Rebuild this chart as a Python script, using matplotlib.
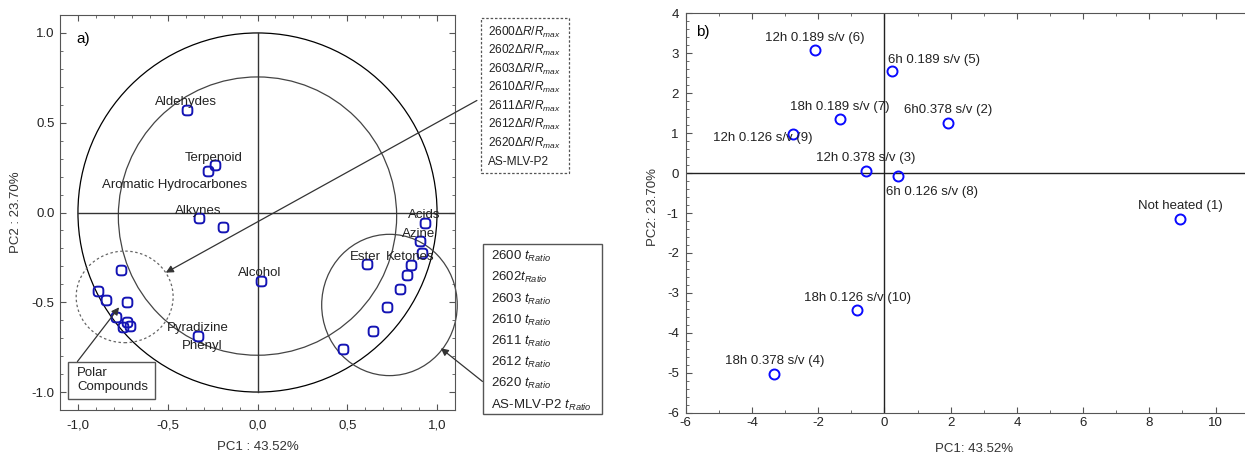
"""
PCA loadings (a) and scores (b) plot
"""

import numpy as np
import matplotlib
matplotlib.use('Agg')
import matplotlib.pyplot as plt
from matplotlib.patches import Circle, Ellipse, Rectangle
from matplotlib.path import Path
from matplotlib.ticker import MultipleLocator

# ================================
# Data
# ================================
# a) loadings of the volatile compound classes / sensors
load_x = [-0.394, -0.236, -0.277, -0.325, -0.193, 0.018, -0.329,
          -0.762, -0.890, -0.843, -0.728, -0.786, -0.728, -0.710, -0.750,
          0.932, 0.904, 0.915, 0.611, 0.854, 0.830, 0.791, 0.722, 0.642, 0.475]
load_y = [0.572, 0.264, 0.229, -0.033, -0.080, -0.382, -0.687,
          -0.319, -0.436, -0.487, -0.497, -0.583, -0.611, -0.630, -0.639,
          -0.058, -0.158, -0.224, -0.289, -0.293, -0.347, -0.424, -0.526, -0.661, -0.758]

compound_names = ['Aldehydes', 'Terpenoid', 'Aromatic Hydrocarbones', 'Alkynes',
                  'Acids', 'Azine', 'Ester', 'Ketones', 'Alcohol',
                  'Pyradizine', 'Phenyl']
# label positions (layout only)
compound_pos = [(-0.40, 0.614), (-0.242, 0.305), (-0.46, 0.152), (-0.33, 0.009),
                (0.928, -0.015), (0.90, -0.117), (0.603, -0.247), (0.85, -0.25),
                (0.013, -0.335), (-0.334, -0.641), (-0.31, -0.741)]

sensors = ['2600', '2602', '2603', '2610', '2611', '2612', '2620']

# b) scores of the samples
sample_names = ['Not heated (1)', '6h0.378 s/v (2)', '12h 0.378 s/v (3)',
                '18h 0.378 s/v (4)', '6h 0.189 s/v (5)', '12h 0.189 s/v (6)',
                '18h 0.189 s/v (7)', '6h 0.126 s/v (8)', '12h 0.126 s/v (9)',
                '18h 0.126 s/v (10)']
score_x = [8.93, 1.92, -0.56, -3.32, 0.22, -2.09, -1.35, 0.42, -2.75, -0.82]
score_y = [-1.15, 1.25, 0.04, -5.04, 2.56, 3.08, 1.35, -0.07, 0.98, -3.42]
# label offsets in pixels + horizontal alignment (layout only)
score_offsets = [(0, 13, 'center'), (0, 13, 'center'), (0, 13, 'center'),
                 (0, 13, 'center'), (-4, 11, 'left'), (0, 12, 'center'),
                 (0, 12, 'center'), (-12, -16, 'left'), (-31, -4, 'center'),
                 (0, 12, 'center')]

# ================================
# Style
# ================================
plt.rcParams['font.family'] = ['Liberation Sans', 'DejaVu Sans']
plt.rcParams['axes.unicode_minus'] = False
plt.rcParams['mathtext.fontset'] = 'custom'
plt.rcParams['mathtext.rm'] = 'Liberation Sans'
plt.rcParams['mathtext.it'] = 'Liberation Sans:italic'

W, H = 1245, 458
FS = 9.5
TXT = '#222222'
SPINE = '#555555'


def px(x, y):
    """pixel position (from top-left) -> figure fraction"""
    return x / W, 1 - y / H


# rounded square marker like the original software uses
t = np.linspace(0, 2 * np.pi, 65)
sq = np.column_stack([np.sign(np.cos(t)) * np.abs(np.cos(t)) ** 0.6,
                      np.sign(np.sin(t)) * np.abs(np.sin(t)) ** 0.6])
squircle = Path(sq, closed=True)

fig = plt.figure(figsize=(W / 100, H / 100), dpi=100)

# --------------------------------
# Panel a: loadings
# --------------------------------
axa = fig.add_axes([60 / W, 1 - 410 / H, 395 / W, 395 / H])
axa.set_xlim(-1.1, 1.1)
axa.set_ylim(-1.1, 1.1)

axa.add_patch(Circle((0, 0), 1.0, fill=False, ec='black', lw=0.9))
axa.add_patch(Circle((0, -0.02), 0.775, fill=False, ec='#444444', lw=0.9))
axa.add_patch(Ellipse((-0.74, -0.47), 0.54, 0.51, fill=False, ec='#666666',
                      lw=0.9, ls=(0, (2, 2))))
axa.add_patch(Ellipse((0.735, -0.515), 0.755, 0.787, fill=False,
                      ec='#444444', lw=0.9, clip_on=False))
axa.plot([-1, 1.1], [0, 0], color='#333333', lw=1.0)
axa.plot([0, 0], [-1, 1], color='#333333', lw=1.0)

axa.plot(load_x, load_y, linestyle='none', marker=squircle, markersize=7,
         mfc='none', mec='#1414b4', mew=1.4)

for name, (lx, ly) in zip(compound_names, compound_pos):
    axa.text(lx, ly, name, fontsize=FS, color=TXT, ha='center', va='center')

axa.text(-0.97, 0.965, 'a)', fontsize=11, color='black', ha='center', va='center')

# Polar compounds box + arrow
axa.add_patch(Rectangle((-1.055, -1.036), 0.483, 0.206, fill=False,
                        ec='#555555', lw=1.0))
axa.text(-1.005, -0.933, 'Polar\nCompounds', fontsize=FS, color=TXT,
         ha='left', va='center', linespacing=1.15)

arrow_kw = dict(arrowstyle='-|>', color='#333333', lw=0.9, mutation_scale=11,
                shrinkA=0, shrinkB=0)
axa.annotate('', xy=(-0.771, -0.528), xytext=(-1.003, -0.83), arrowprops=arrow_kw)
axa.annotate('', xy=(-0.511, -0.335), xytext=(1.222, 0.624), arrowprops=arrow_kw,
             annotation_clip=False)
axa.annotate('', xy=(1.021, -0.756), xytext=(1.253, -0.941), arrowprops=arrow_kw,
             annotation_clip=False)

axa.set_xticks([-1, -0.5, 0, 0.5, 1])
axa.set_xticklabels(['-1,0', '-0,5', '0,0', '0,5', '1,0'])
axa.set_yticks([-1, -0.5, 0, 0.5, 1])
axa.set_yticklabels(['-1.0', '-0.5', '0.0', '0.5', '1.0'])
axa.xaxis.set_minor_locator(MultipleLocator(0.1))
axa.yaxis.set_minor_locator(MultipleLocator(0.1))
axa.tick_params(which='both', direction='in', top=True, right=True,
                color=SPINE, labelsize=FS, labelcolor=TXT)
axa.tick_params(which='major', length=4)
axa.tick_params(which='minor', length=2)
axa.tick_params(axis='x', pad=7)
axa.tick_params(axis='y', pad=4)
for sp in axa.spines.values():
    sp.set_color(SPINE)
axa.text(0.5, -0.093, 'PC1 : 43.52%', transform=axa.transAxes, fontsize=FS,
         color='#333333', ha='center', va='center')
axa.text(-0.111, 0.5, 'PC2 : 23.70%', transform=axa.transAxes, fontsize=FS,
         color='#333333', ha='center', va='center', rotation=90)

# sensor boxes outside the axes
fig.add_artist(Rectangle(px(480.7, 173.3), 88.6 / W, 155 / H, fill=False,
                         ec='#555555', lw=0.9, ls=(0, (2, 1.5)),
                         transform=fig.transFigure))
box1 = [f'{s}$\\Delta R/R_{{max}}$' for s in sensors] + ['AS-MLV-P2']
for i, line in enumerate(box1):
    fig.text(*px(488, 32 + i * 18.57), line, fontsize=8.6, color=TXT,
             ha='left', va='center')

fig.add_artist(Rectangle(px(483.3, 414), 118.4 / W, 170 / H, fill=False,
                         ec='#555555', lw=1.0, transform=fig.transFigure))
box2 = [f'{s} $t_{{Ratio}}$' if s != '2602' else f'{s}$t_{{Ratio}}$'
        for s in sensors] + ['AS-MLV-P2 $t_{Ratio}$']
for i, line in enumerate(box2):
    fig.text(*px(491, 256.7 + i * 21.2), line, fontsize=FS, color=TXT,
             ha='left', va='center')

# --------------------------------
# Panel b: scores
# --------------------------------
axb = fig.add_axes([685.7 / W, 1 - 412.7 / H, 563 / W, 399.4 / H])
axb.set_xlim(-6, 11)
axb.set_ylim(-6, 4)
axb.axhline(0, color='#222222', lw=1.0)
axb.axvline(0, color='#222222', lw=1.0)

axb.plot(score_x, score_y, linestyle='none', marker='o', markersize=7.2,
         mfc='none', mec='#0a0aff', mew=1.4)
for name, sx, sy, (dx, dy, ha) in zip(sample_names, score_x, score_y, score_offsets):
    axb.annotate(name, (sx, sy), xytext=(dx, dy), textcoords='offset pixels',
                 fontsize=FS, color=TXT, ha=ha, va='center')

axb.text(-5.47, 3.52, 'b)', fontsize=11, color='black', ha='center', va='center')

axb.set_xticks(np.arange(-6, 11, 2))
axb.set_yticks(np.arange(-6, 5, 1))
axb.xaxis.set_minor_locator(MultipleLocator(1))
axb.yaxis.set_minor_locator(MultipleLocator(0.2))
axb.tick_params(which='both', direction='in', top=True, right=False,
                color=SPINE, labelsize=FS, labelcolor=TXT)
axb.tick_params(which='major', length=4)
axb.tick_params(which='minor', length=2)
axb.tick_params(axis='x', pad=3)
axb.tick_params(axis='y', pad=5)
for sp in axb.spines.values():
    sp.set_color(SPINE)
axb.text(0.512, -0.091, 'PC1: 43.52%', transform=axb.transAxes, fontsize=FS,
         color='#333333', ha='center', va='center')
axb.text(-0.058, 0.515, 'PC2: 23.70%', transform=axb.transAxes, fontsize=FS,
         color='#333333', ha='center', va='center', rotation=90)

fig.savefig('out.png', dpi=100)
